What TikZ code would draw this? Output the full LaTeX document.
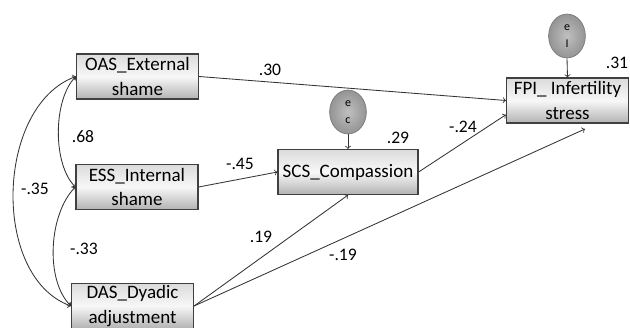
\documentclass[tikz,border=0pt]{standalone}
\usepackage{fontspec}
\setmainfont{Carlito}
\usepackage{tikz}
\usetikzlibrary{arrows,shapes.geometric}

\begin{document}
\begin{tikzpicture}[x=0.025cm,y=-0.025cm,
  box/.style={draw=black!75,line width=0.8pt,top color=black!14,bottom color=black!30,middle color=black!3,
    minimum width=3.05cm,minimum height=1.125cm,align=center,inner sep=0pt,
    font=\fontsize{13.5}{17.5}\selectfont},
  err/.style={ellipse,draw=black!55,inner color=black!25,outer color=black!42,minimum width=0.92cm,
    minimum height=1.1cm,inner sep=0pt,align=center,font=\fontsize{8.5}{12}\selectfont},
  lbl/.style={inner sep=0pt,font=\fontsize{12.5}{14}\selectfont},
  eff/.style={->,>=to,draw=black!80,line width=0.6pt},
  cov/.style={<->,>=to,draw=black!80,line width=0.6pt}]
\useasboundingbox (0,0) rectangle (630,328);
\node[box] (oas) at (137.5,76.5) {OAS\_External\\shame};
\node[box] (ess) at (137,187) {ESS\_Internal\\shame};
\node[box] (das) at (132.5,306) {DAS\_Dyadic\\adjustment};
\node[box,minimum width=3.5cm] (scs) at (348,172) {SCS\_Compassion};
\node[box] (fpi) at (567.5,100.5) {FPI\_ Infertility\\stress};
\node[err] (ec) at (348,112) {e\\c};
\node[err] (ei) at (567,36) {e\\I};
\coordinate (fpiin) at (585,129);
\draw[eff] (oas.east) -- (fpi.west);
\draw[eff] (ess.east) -- (scs.west);
\draw[eff] (scs.east) -- (fpi.193);
\draw[eff] (das.east) -- (scs.south);
\draw[eff] (das.east) -- (fpiin);
\draw[eff] (ec.south) -- (scs.north);
\draw[eff] (ei.south) -- (fpi.north);
\draw[cov] (oas.west) to[out=225,in=135,looseness=0.75] (ess.west);
\draw[cov] (ess.west) to[out=225,in=135,looseness=0.8] (das.west);
\draw[cov] (oas.west) to[out=200,in=160,looseness=0.95] (das.west);
\node[lbl] (l30) at (270,70) {.30};
\node[lbl] (l68) at (83,137) {.68};
\node[lbl] (l35) at (35,189) {-.35};
\node[lbl] (l45) at (240,164) {-.45};
\node[lbl] (l33) at (84,249) {-.33};
\node[lbl] (l19a) at (261,237) {.19};
\node[lbl] (l29) at (398,138) {.29};
\node[lbl] (l24) at (463,127) {-.24};
\node[lbl] (l19b) at (343,255) {-.19};
\node[lbl] (l31) at (617,63) {.31};
\end{tikzpicture}
\end{document}
